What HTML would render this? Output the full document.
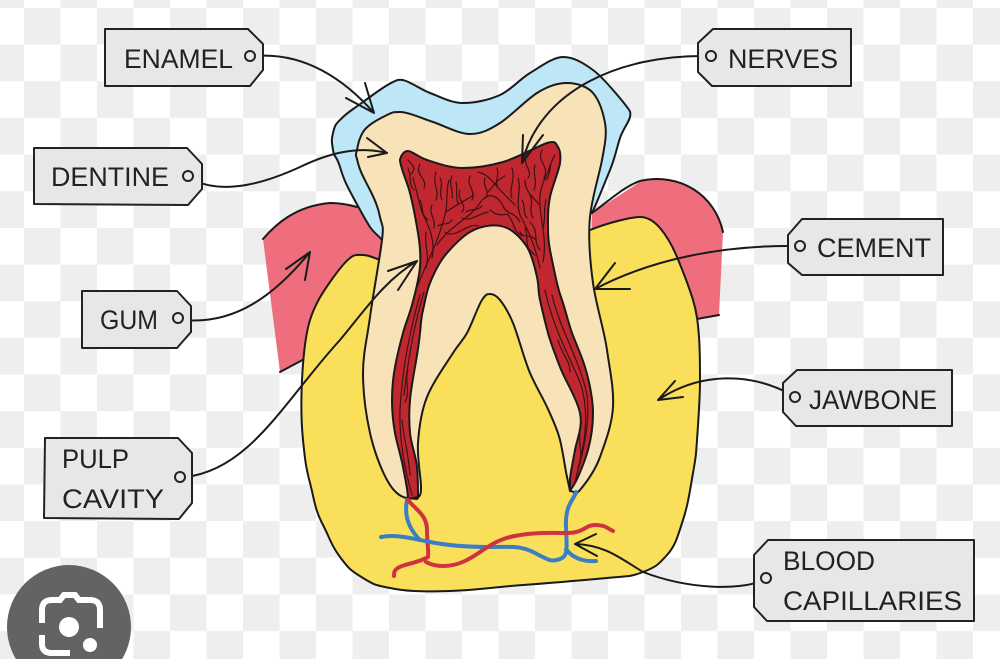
<!DOCTYPE html>
<html>
<head>
<meta charset="utf-8">
<style>
html,body{margin:0;padding:0;background:#fff;width:1000px;height:659px;overflow:hidden}
svg{display:block}
text{font-family:"Liberation Sans",sans-serif;font-size:27px;fill:#222}
.o{stroke:#1a1a1a;stroke-width:2;stroke-linejoin:round;stroke-linecap:round}
.t{fill:#e7e7e7;stroke:#222;stroke-width:2;stroke-linejoin:round}
.h{fill:none;stroke:#222;stroke-width:2}
.a{fill:none;stroke:#1a1a1a;stroke-width:2;stroke-linecap:round;stroke-linejoin:round}
.v{fill:none;stroke:#3d1216;stroke-width:1.2;stroke-linecap:round}
.b{fill:none;stroke:#3a7fc4;stroke-width:4;stroke-linecap:round;stroke-linejoin:round}
.r{fill:none;stroke:#cf3340;stroke-width:4;stroke-linecap:round;stroke-linejoin:round}
</style>
</head>
<body>
<svg width="1000" height="659" viewBox="0 0 1000 659" xmlns="http://www.w3.org/2000/svg">
<defs>
<pattern id="c" x="24" y="8" width="73" height="73.3" patternUnits="userSpaceOnUse">
<rect width="36.5" height="36.65" fill="#eeeeee"/>
<rect x="36.5" y="36.65" width="36.5" height="36.65" fill="#eeeeee"/>
</pattern>
</defs>
<rect width="1000" height="659" fill="#fff"/>
<rect width="1000" height="659" fill="url(#c)"/>

<!-- gums -->
<path d="M263,239 C275,225 295,206 330,203 L357,207 L385,215 L390,290 L305,358 L280,372 Z" fill="#ee6e7e"/>
<path d="M263,239 C275,225 295,206 330,203 C340,203 350,205 357,207" fill="none" class="o"/>
<path d="M280,372 L310,356" fill="none" class="o"/>
<path d="M592,213 L640,182 C680,172 715,195 723,232 L719,315 L697,319 L590,300 Z" fill="#ee6e7e"/>
<path d="M592,213 C610,200 625,186 640,181 C680,172 715,195 723,232" fill="none" class="o"/>
<path d="M719,315 L697,319" fill="none" class="o"/>

<!-- jawbone -->
<path d="M380,260 C374,258 369,255 363,255 S355,254 350,258 S337,272 330,282 S315,304 310,320 S303,360 302,380 S301,420 303,440 S306,468 310,483 S315,510 322,523 S331,545 340,557 S350,570 363,578 S376,585 390,588 S420,592 450,591 S495,587 523,585 S585,580 607,578 S630,577 643,572 S658,565 667,555 S678,535 683,520 S690,490 693,473 S696,455 697,440 S700,400 700,380 S700,350 699,337 S697,313 693,300 S682,269 677,257 S666,235 660,228 S648,217 640,217 S610,222 590,230 Z" fill="#fadf5a" class="o"/>

<!-- enamel -->
<path d="M382,240 C378,235 374,233 370,227 S360,210 353,197 S344,180 340,167 S334,158 333,150 S331,142 333,133 S336,124 342,118 S352,110 363,102 S390,82 398,80 S419,89 430,93 S451,103 463,103 S489,100 500,95 S520,79 530,73 S553,57 563,57 S582,62 593,70 S624,103 627,107 S631,112 630,117 S623,129 620,138 S615,158 610,170 S598,200 592,213 Z" fill="#bde6f6" class="o"/>

<!-- dentine -->
<path d="M357,150 C358,143 360,137 363,132 S373,122 383,117 S392,112 400,112 S421,118 433,122 S459,134 470,134 S489,130 500,123 S526,100 537,93 S558,83 567,83 S587,86 593,93 S603,112 605,123 S605,144 602,160 S592,197 590,217 S590,261 593,283 S604,329 607,350 S614,389 613,407 S605,443 600,457 S585,484 580,490 S575,491 570,491 C569,486 569,486 567,477 S563,452 560,440 S552,418 547,407 S536,387 530,373 S518,335 513,323 S504,305 500,300 S493,294 490,294 S486,294 482,300 S472,324 467,333 S460,342 453,353 S433,382 427,397 S419,428 418,443 S421,478 421,487 S420,495 417,499 L407,498 C400,497 393,491 387,480 S374,451 370,433 S363,392 363,373 S367,339 370,317 S380,257 382,240 S382,227 380,217 S375,200 370,190 S360,172 358,163 S355,157 357,150 Z" fill="#f8e2b8" class="o"/>

<!-- pulp -->
<path d="M400,160 C401,155 404,151 408,151 S418,157 427,160 S450,168 463,168 S489,166 503,162 S538,146 547,143 S556,144 558,147 S561,155 560,163 S552,187 550,197 S548,214 548,223 S548,240 550,250 S555,275 557,283 S559,292 562,300 S568,322 572,333 S581,354 585,367 S593,399 593,413 S591,439 588,450 S581,470 578,477 S573,486 570,491 C570,486 570,485 570,480 S573,461 575,450 S583,427 580,413 S565,380 560,367 S551,344 548,333 S542,309 540,300 S539,286 537,277 S532,255 527,247 S514,231 507,228 S493,225 487,226 S477,228 470,232 S454,245 447,253 S434,273 430,283 S425,302 423,310 S421,323 420,333 S417,356 415,367 S411,389 410,400 S409,422 410,433 S416,456 417,467 S418,487 418,497 L408,499 C408,490 405,478 403,467 S397,444 395,433 S392,411 392,400 S393,378 395,367 S400,344 403,333 S409,316 412,305 S419,279 420,267 S420,245 418,233 S413,205 410,193 S400,167 400,160 Z" fill="#c1272f" class="o"/>

<!-- pulp veins -->
<path class="v" d="M416,290 C425,265 440,240 446,210 C448,195 446,190 449,180"/>
<path class="v" d="M446,212 C456,205 466,200 474,195 M458,204 C455,195 458,190 456,182 M432,258 C436,240 428,225 422,212 C418,200 418,195 413,178"/>
<path class="v" d="M437,245 C450,225 472,218 482,200 C490,192 498,196 503,206 C506,214 515,212 520,222 M490,210 C497,216 503,215 508,214"/>
<path class="v" d="M478,172 C490,175 495,185 500,190 C505,195 510,200 515,205 M512,168 C516,180 508,190 512,198 M505,176 C496,180 492,188 488,192"/>
<path class="v" d="M540,268 C535,245 528,230 520,215 C515,200 522,190 518,178 M543,262 C548,235 538,215 540,195 C542,180 548,175 550,165 M540,205 C530,195 525,190 525,180 M536,240 C528,232 525,240 520,232"/>
<path class="v" d="M410,175 C418,168 412,165 408,160 M420,164 C414,175 428,178 424,188 M436,172 C432,185 440,190 436,200 M460,190 C456,200 468,205 462,212 M470,176 C466,186 476,190 472,200 M528,152 C520,165 534,170 528,178 M542,150 C536,162 550,165 544,178 M555,155 C548,165 552,172 546,180"/>
<path class="v" d="M426,232 C424,245 430,255 426,268 M445,232 C455,240 468,222 478,226 M462,218 C470,222 478,214 488,212 M525,228 C530,240 522,245 535,255 M530,222 C540,232 532,240 540,250"/>
<path class="v" d="M420,200 C424,208 420,214 428,220 M432,205 C428,214 436,218 434,228 M452,176 C448,186 454,190 452,198 M485,178 C482,186 490,190 486,198 M530,195 C534,205 528,210 533,218 M508,215 C516,225 512,230 522,236 M546,200 C543,210 546,218 543,228"/>
<path class="v" d="M408,168 C412,178 408,184 414,190 M440,178 C444,186 438,192 442,200 M466,212 C472,208 476,212 482,206 M497,168 C500,176 494,180 498,188 M535,165 C532,175 538,180 534,190 M522,200 C526,206 522,212 527,218 M438,226 C444,222 448,226 452,220"/>
<path class="v" d="M420,295 C410,330 402,370 400,410 C399,440 405,470 412,495 M424,292 C414,325 408,360 404,395 M408,370 C404,382 411,390 405,402 M402,420 C404,440 408,450 410,475"/>
<path class="v" d="M545,290 C555,335 572,360 581,385 C590,415 585,445 574,485 M552,295 C560,330 580,360 587,395 C590,420 584,450 578,470 M558,340 C562,355 570,360 570,372 M580,432 C578,445 584,452 578,468"/>

<!-- vessels -->
<path class="b" d="M407,500 C404,515 408,528 420,540"/>
<path class="r" d="M408,500 C416,510 427,515 427,530 S429,550 428,557 C420,562 410,563 402,566 S394,572 394,576"/>
<path class="b" d="M381,537 C395,534 410,538 430,542 S470,547 490,547 S520,545 535,553 S552,562 560,559 S567,550 566,527 S574,500 576,492"/>
<path class="b" d="M566,549 C572,558 584,562 596,561"/>
<path class="r" d="M426,562 C435,567 450,568 465,561 S490,542 510,537 S550,533 567,533 S585,525 595,525 S607,528 613,531"/>

<!-- arrows -->
<path class="a" d="M255,56 C305,52 345,80 374,113 M346,98 L374,113 L365,83"/>
<path class="a" d="M193,180 C225,195 265,183 300,167 C325,155 355,145 387,153 M367,138 L387,153 L368,157"/>
<path class="a" d="M183,320 C235,325 275,295 310,252 M286,269 L310,252 L305,280"/>
<path class="a" d="M185,477 C250,470 285,400 340,340 C365,310 385,280 417,261 M388,271 L417,261 L398,290"/>
<path class="a" d="M706,56 C620,55 540,90 522,163 M523,135 L522,163 L543,135"/>
<path class="a" d="M797,246 C720,245 650,260 595,289 M615,263 L595,289 L630,289"/>
<path class="a" d="M792,395 C750,372 700,372 658,400 M675,381 L658,400 L683,397"/>
<path class="a" d="M761,581 C740,590 690,590 643,572 C620,558 605,545 575,544 M596,534 L575,544 L597,556"/>

<!-- tags -->
<path class="t" d="M105,29 L248,29 L263,44 L263,70 L250,86 L105,86 Z"/>
<circle class="h" cx="250" cy="56" r="5"/>
<text x="124" y="68" textLength="109" lengthAdjust="spacingAndGlyphs">ENAMEL</text>

<path class="t" d="M34,148 L187,148 L202,164 L202,189 L188,205 L34,204 Z"/>
<circle class="h" cx="188" cy="176" r="5"/>
<text x="51" y="186" textLength="118" lengthAdjust="spacingAndGlyphs">DENTINE</text>

<path class="t" d="M82,291 L177,291 L191,306 L191,332 L177,348 L82,348 Z"/>
<circle class="h" cx="178" cy="318" r="5"/>
<text x="100" y="329" textLength="58" lengthAdjust="spacingAndGlyphs">GUM</text>

<path class="t" d="M45,438 L178,438 L192,453 L192,503 L179,519 L44,518 Z"/>
<circle class="h" cx="180" cy="477" r="5"/>
<text x="62" y="468" textLength="67" lengthAdjust="spacingAndGlyphs">PULP</text>
<text x="62" y="508" textLength="102" lengthAdjust="spacingAndGlyphs">CAVITY</text>

<path class="t" d="M698,43 L713,29 L851,29 L851,86 L712,86 L698,72 Z"/>
<circle class="h" cx="711" cy="56" r="5"/>
<text x="728" y="68" textLength="110" lengthAdjust="spacingAndGlyphs">NERVES</text>

<path class="t" d="M788,235 L802,219 L943,219 L943,275 L802,275 L788,263 Z"/>
<circle class="h" cx="800" cy="246" r="5"/>
<text x="817" y="257" textLength="114" lengthAdjust="spacingAndGlyphs">CEMENT</text>

<path class="t" d="M783,383 L797,370 L952,370 L952,426 L796,426 L783,412 Z"/>
<circle class="h" cx="795" cy="397" r="5"/>
<text x="809" y="409" textLength="128" lengthAdjust="spacingAndGlyphs">JAWBONE</text>

<path class="t" d="M754,555 L768,540 L974,540 L974,621 L767,621 L754,607 Z"/>
<circle class="h" cx="766" cy="578" r="5"/>
<text x="783" y="570" textLength="92" lengthAdjust="spacingAndGlyphs">BLOOD</text>
<text x="783" y="610" textLength="179" lengthAdjust="spacingAndGlyphs">CAPILLARIES</text>

<!-- lens badge -->
<circle cx="69" cy="627" r="62" fill="#636363"/>
<path d="M42,623 L42,610 Q42,600 52,600 L60,600 L64,595 L75,595 L79,600 L90,600 Q100,600 100,610 L100,628" fill="none" stroke="#fff" stroke-width="6"/>
<path d="M42,635 L42,644 Q42,653 52,653 L70,653" fill="none" stroke="#fff" stroke-width="6"/>
<circle cx="69" cy="627" r="10" fill="#fff"/>
<circle cx="90" cy="645" r="7" fill="#fff"/>
</svg>
</body>
</html>
